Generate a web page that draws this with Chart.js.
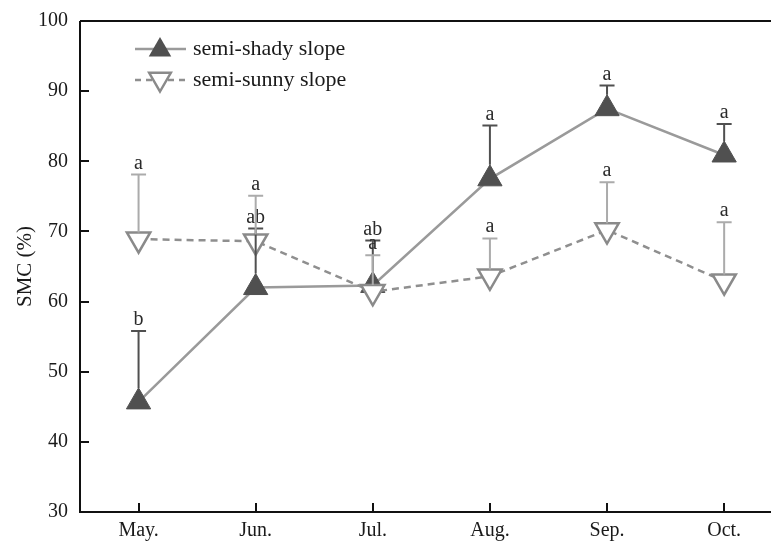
<!DOCTYPE html>
<html>
<head>
<meta charset="utf-8">
<script src="https://cdn.jsdelivr.net/npm/chart.js@4.4.0/dist/chart.umd.min.js"></script>
<style>
  html, body { margin: 0; padding: 0; background: #fff; }
  #wrap { width: 771px; height: 545px; }
</style>
</head>
<body>
<div id="wrap"><canvas id="c" width="771" height="545"></canvas></div>
<script>
// Soil moisture content by month on the two slopes (mean, SD, significance letters)
const months = ['May.', 'Jun.', 'Jul.', 'Aug.', 'Sep.', 'Oct.'];
const shadyMean = [45.7, 62.0, 62.3, 77.5, 87.5, 80.9];
const shadySD = [10.1, 8.4, 6.4, 7.6, 3.3, 4.4];
const shadyLetters = ['b', 'ab', 'ab', 'a', 'a', 'a'];
const sunnyMean = [68.9, 68.6, 61.4, 63.6, 70.2, 62.9];
const sunnySD = [9.2, 6.5, 5.2, 5.4, 6.8, 8.4];
const sunnyLetters = ['a', 'a', 'a', 'a', 'a', 'a'];
const yTicks = [30, 40, 50, 60, 70, 80, 90, 100];
const seriesNames = ['semi-shady slope', 'semi-sunny slope'];

const SERIF = '"Liberation Serif", "Times New Roman", serif';
const SHADY_MARK = '#505050';
const SHADY_LINE = '#9a9a9a';
const SUNNY_MARK = '#8a8a8a';
const SUNNY_LINE = '#8f8f8f';
const SUNNY_BAR = '#ababab';
const R_SHADY = 14;
const R_SUNNY = 13.5;

const toPoints = (arr) => arr.map((v, i) => ({ x: i, y: v }));

// Upward error bars with letter labels, drawn over the markers
const errorBars = {
  id: 'errorBars',
  afterDatasetsDraw(chart) {
    const ctx = chart.ctx;
    const ys = chart.scales.y;
    const specs = [
      { ds: 0, sd: shadySD, mean: shadyMean, letters: shadyLetters, color: SHADY_MARK, edge: R_SHADY },
      { ds: 1, sd: sunnySD, mean: sunnyMean, letters: sunnyLetters, color: SUNNY_BAR, edge: R_SUNNY / 2 }
    ];
    ctx.save();
    specs.forEach(s => {
      const meta = chart.getDatasetMeta(s.ds);
      meta.data.forEach((pt, i) => {
        const x = pt.x;
        const yStart = pt.y - s.edge;
        const yTop = ys.getPixelForValue(s.mean[i] + s.sd[i]);
        ctx.strokeStyle = s.color;
        ctx.lineWidth = 2;
        ctx.beginPath();
        ctx.moveTo(x, yStart);
        ctx.lineTo(x, yTop);
        ctx.moveTo(x - 7.5, yTop);
        ctx.lineTo(x + 7.5, yTop);
        ctx.stroke();
        ctx.fillStyle = '#2a2a2a';
        ctx.font = '20px ' + SERIF;
        ctx.textAlign = 'center';
        ctx.textBaseline = 'alphabetic';
        ctx.fillText(s.letters[i], x, yTop - 6);
      });
    });
    ctx.restore();
  }
};

// Frame lines with inward tick marks, plus the legend
const frame = {
  id: 'frame',
  afterDraw(chart) {
    const ctx = chart.ctx;
    const a = chart.chartArea;
    const xs = chart.scales.x, ys = chart.scales.y;
    ctx.save();
    ctx.strokeStyle = '#111';
    ctx.lineWidth = 2;
    ctx.beginPath();
    ctx.moveTo(a.left, a.top);
    ctx.lineTo(a.right, a.top);
    ctx.moveTo(a.left, a.top);
    ctx.lineTo(a.left, a.bottom);
    ctx.lineTo(a.right, a.bottom);
    yTicks.forEach(v => {
      if (v === 30 || v === 100) return;
      const y = Math.round(ys.getPixelForValue(v));
      ctx.moveTo(a.left, y);
      ctx.lineTo(a.left + 9, y);
    });
    months.forEach((m, i) => {
      const x = Math.round(xs.getPixelForValue(i));
      ctx.moveTo(x, a.bottom);
      ctx.lineTo(x, a.bottom - 9);
    });
    ctx.stroke();

    // legend
    const lx0 = 135, lx1 = 186, mx = 160, tx = 193;
    const rows = [49, 80];
    ctx.lineWidth = 2.5;
    ctx.strokeStyle = SHADY_LINE;
    ctx.beginPath();
    ctx.moveTo(lx0, rows[0]); ctx.lineTo(lx1, rows[0]);
    ctx.stroke();
    ctx.fillStyle = SHADY_MARK;
    ctx.beginPath();
    const r1 = 13, c1 = rows[0] + 1;
    ctx.moveTo(mx, c1 - r1);
    ctx.lineTo(mx + r1 * 0.866, c1 + r1 / 2);
    ctx.lineTo(mx - r1 * 0.866, c1 + r1 / 2);
    ctx.closePath();
    ctx.fill();

    ctx.strokeStyle = SUNNY_LINE;
    ctx.setLineDash([6, 5]);
    ctx.beginPath();
    ctx.moveTo(lx0, rows[1]); ctx.lineTo(lx1, rows[1]);
    ctx.stroke();
    ctx.setLineDash([]);
    const r2 = 12.5, c2 = rows[1] - 1;
    ctx.fillStyle = '#fff';
    ctx.strokeStyle = SUNNY_MARK;
    ctx.beginPath();
    ctx.moveTo(mx, c2 + r2);
    ctx.lineTo(mx + r2 * 0.866, c2 - r2 / 2);
    ctx.lineTo(mx - r2 * 0.866, c2 - r2 / 2);
    ctx.closePath();
    ctx.fill();
    ctx.stroke();

    ctx.fillStyle = '#1a1a1a';
    ctx.font = '22px ' + SERIF;
    ctx.textAlign = 'left';
    ctx.textBaseline = 'middle';
    ctx.fillText(seriesNames[0], tx, rows[0]);
    ctx.fillText(seriesNames[1], tx, rows[1]);
    ctx.restore();
  }
};

new Chart(document.getElementById('c'), {
  type: 'line',
  data: {
    datasets: [
      {
        label: seriesNames[0],
        data: toPoints(shadyMean),
        borderColor: SHADY_LINE,
        borderWidth: 2.5,
        pointStyle: 'triangle',
        pointRadius: R_SHADY,
        pointBackgroundColor: SHADY_MARK,
        pointBorderColor: SHADY_MARK,
        pointBorderWidth: 1,
        tension: 0,
        clip: false,
        order: 1
      },
      {
        label: seriesNames[1],
        data: toPoints(sunnyMean),
        borderColor: SUNNY_LINE,
        borderWidth: 2.5,
        borderDash: [7, 5],
        pointStyle: 'triangle',
        pointRotation: 180,
        pointRadius: R_SUNNY,
        pointBackgroundColor: '#ffffff',
        pointBorderColor: SUNNY_MARK,
        pointBorderWidth: 2.5,
        tension: 0,
        clip: false,
        order: 0
      }
    ]
  },
  options: {
    responsive: false,
    animation: false,
    events: [],
    layout: { autoPadding: false, padding: { top: 21, right: 0, left: 0, bottom: 0 } },
    plugins: { legend: { display: false }, tooltip: { enabled: false } },
    scales: {
      x: {
        type: 'linear',
        min: -0.5,
        max: 5.4,
        grid: { display: false, drawTicks: false },
        border: { display: false },
        afterBuildTicks: (s) => { s.ticks = months.map((m, i) => ({ value: i })); },
        afterFit: (s) => { s.height = 33; s.paddingLeft = 0; s.paddingRight = 0; },
        ticks: {
          padding: 7,
          autoSkip: false,
          maxRotation: 0,
          color: '#1a1a1a',
          font: { family: SERIF, size: 20 },
          callback: (v) => months[v]
        }
      },
      y: {
        min: 30,
        max: 100,
        grid: { display: false, drawTicks: false },
        border: { display: false },
        afterBuildTicks: (s) => { s.ticks = yTicks.map(v => ({ value: v })); },
        afterFit: (s) => { s.width = 80; s.paddingTop = 0; s.paddingBottom = 0; },
        ticks: {
          padding: 12,
          color: '#1a1a1a',
          font: { family: SERIF, size: 20 }
        },
        title: {
          display: true,
          text: 'SMC (%)',
          color: '#1a1a1a',
          font: { family: SERIF, size: 21 },
          padding: { top: 13, bottom: 0 }
        }
      }
    }
  },
  plugins: [errorBars, frame]
});
</script>
</body>
</html>
